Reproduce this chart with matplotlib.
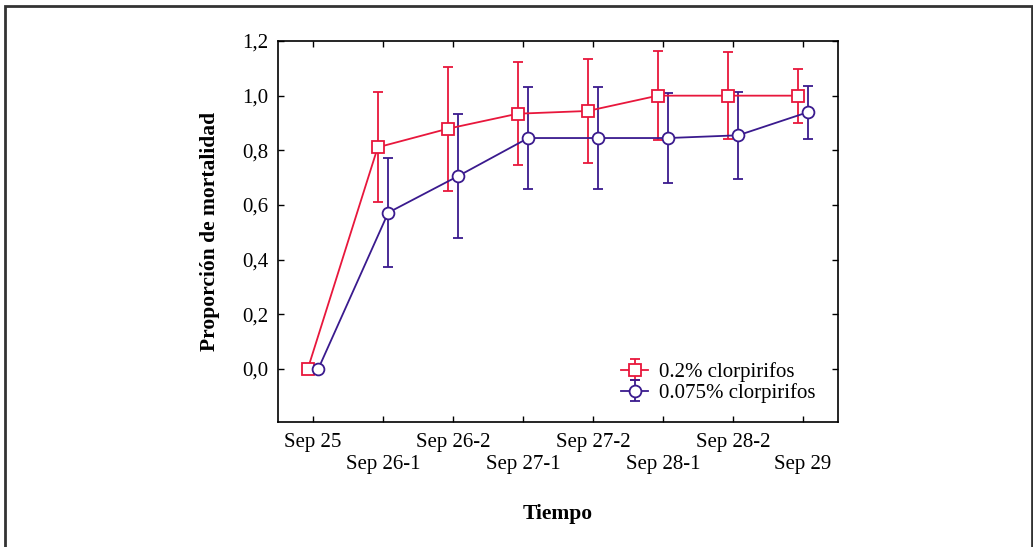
import numpy as np
import matplotlib.pyplot as plt
from matplotlib.patches import Rectangle

plt.rcParams['font.family'] = ['Liberation Serif', 'DejaVu Serif']

fechas = ['Sep 25', 'Sep 26-1', 'Sep 26-2', 'Sep 27-1', 'Sep 27-2', 'Sep 28-1', 'Sep 28-2', 'Sep 29']
media_02 = [0.0, 0.811, 0.879, 0.934, 0.944, 1.0, 1.0, 1.0]
error_02 = [0.0, 0.201, 0.226, 0.188, 0.189, 0.164, 0.160, 0.099]
media_0075 = [0.0, 0.572, 0.706, 0.845, 0.845, 0.845, 0.855, 0.940]
error_0075 = [0.0, 0.200, 0.226, 0.185, 0.187, 0.165, 0.160, 0.097]
yticks = [0.0, 0.2, 0.4, 0.6, 0.8, 1.0, 1.2]

rojo = '#e8173c'
morado = '#3a1a8e'

fig = plt.figure(figsize=(10.33, 5.47), dpi=100)
ax = fig.add_axes([278/1033, 1-422/547, 560/1033, 381/547])

# marco exterior
fig.patches.append(Rectangle((4.5/1033, -0.05), 1027/1033, 1.05 - 5.5/547,
                             transform=fig.transFigure, fill=False,
                             edgecolor='#333333', linewidth=2))

x = np.arange(len(fechas))
ax.errorbar(x - 0.075, media_02, yerr=error_02, color=rojo, marker='s', markersize=8,
            markerfacecolor='white', markeredgecolor=rojo, markeredgewidth=1.3,
            linewidth=1.3, elinewidth=1.3, capsize=3.5, capthick=1.3,
            label='0.2% clorpirifos')
ax.errorbar(x + 0.075, media_0075, yerr=error_0075, color=morado, marker='o', markersize=8.5,
            markerfacecolor='white', markeredgecolor=morado, markeredgewidth=1.3,
            linewidth=1.3, elinewidth=1.3, capsize=3.5, capthick=1.3,
            label='0.075% clorpirifos')

ax.set_xlim(-0.5, 7.5)
ax.set_ylim(-0.194, 1.2)
ax.set_xticks(x)
ax.set_xticklabels([f if i % 2 == 0 else '\n' + f for i, f in enumerate(fechas)],
                   linespacing=1.2)
ax.set_yticks(yticks)
ax.set_yticklabels([('%.1f' % v).replace('.', ',') for v in yticks])
ax.tick_params(direction='in', top=True, right=True, length=4, width=1,
               labelsize=15, pad=7)
ax.tick_params(axis='x', pad=8)
for s in ax.spines.values():
    s.set_linewidth(1.2)

ax.set_xlabel('Tiempo', fontsize=15.5, fontweight='bold', labelpad=22)
ax.set_ylabel('Proporción de mortalidad', fontsize=15.5, fontweight='bold', labelpad=16)

ax.legend(loc='lower right', bbox_to_anchor=(0.985, 0.012), frameon=False, fontsize=15,
          handlelength=1.3, handletextpad=0.5, labelspacing=0.05, borderaxespad=0.3)

fig.savefig('out.png', dpi=100)
